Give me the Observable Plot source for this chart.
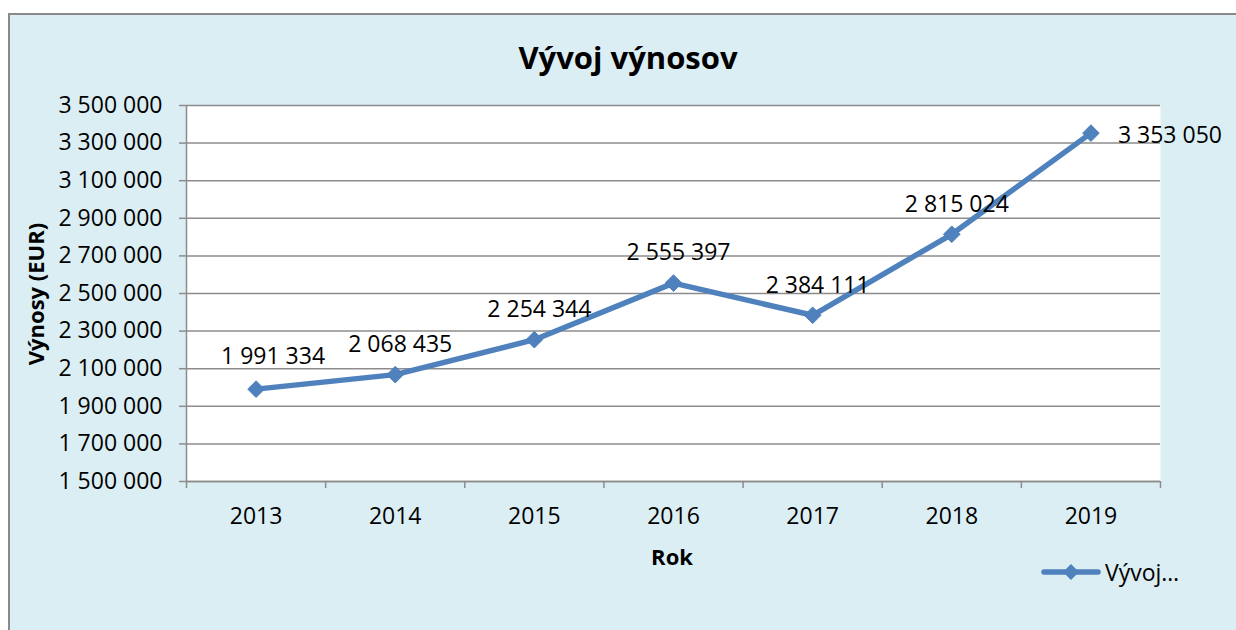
<!DOCTYPE html>
<html>
<head>
<meta charset="utf-8">
<script src="https://cdn.jsdelivr.net/npm/d3@7"></script>
<script src="https://cdn.jsdelivr.net/npm/@observablehq/plot@0.6"></script>
<style>
  html, body { margin: 0; padding: 0; background: #ffffff; overflow: hidden; width: 1236px; height: 630px; }
  #chart { position: absolute; left: 8px; top: 13px; width: 1240px; height: 630px; box-sizing: border-box;
           background: #DBEEF4; border: 2px solid #8a8a8a; font-family: "Open Sans", Lato, sans-serif; color: #000; }
  #plot { position: absolute; left: 0; top: 0; }
  .title { position: absolute; left: 0; width: 1236px; text-align: center; top: 22px; font-weight: bold; font-size: 31px; line-height: 40px; }
  .ytitle { position: absolute; left: 25px; top: 279px; transform: translate(-50%, -50%) rotate(-90deg); font-weight: bold; font-size: 22px; white-space: nowrap; }
  .xtitle { position: absolute; left: 662px; top: 526px; transform: translateX(-50%); font-weight: bold; font-size: 22px; }
  .legend { position: absolute; left: 1030px; top: 541px; display: flex; align-items: center; font-size: 23px; }
</style>
</head>
<body>
<div id="chart">
  <div id="plot"></div>
  <div class="title" id="title"></div>
  <div class="ytitle" id="ytitle"></div>
  <div class="xtitle" id="xtitle"></div>
  <div class="legend" id="legend"></div>
</div>
<script>
const years = [2013, 2014, 2015, 2016, 2017, 2018, 2019];
const revenues = [1991334, 2068435, 2254344, 2555397, 2384111, 2815024, 3353050];
const yTicks = [1500000, 1700000, 1900000, 2100000, 2300000, 2500000, 2700000, 2900000, 3100000, 3300000, 3500000];
const titleText = "Vývoj výnosov";
const yTitleText = "Výnosy (EUR)";
const xTitleText = "Rok";
const seriesName = "Vývoj…";

const data = years.map((y, i) => ({year: y, value: revenues[i], i}));
const last = years.length - 1;
const boundaries = [...years.map(y => y - 0.5), years[last] + 0.5];
const fmt = v => d3.format(",")(v).replace(/,/g, " ");
const blue = "#4F81BD";
const grid = "#8c8c8c";
const font = "'Open Sans', Lato, sans-serif";

const chart = Plot.plot({
  width: 1226,
  height: 615,
  marginLeft: 176,
  marginRight: 76,
  marginTop: 90,
  marginBottom: 149,
  style: {background: "transparent", fontFamily: font, fontSize: "23px", color: "#000", overflow: "visible"},
  x: {type: "linear", domain: [years[0] - 0.5, years[last] + 0.5]},
  y: {domain: [1500000, 3500000]},
  marks: [
    Plot.frame({fill: "white", stroke: null}),
    Plot.gridY(yTicks, {stroke: grid, strokeOpacity: 1, strokeWidth: 1.5}),
    Plot.axisY(yTicks, {tickSize: 7, tickPadding: 17, tickFormat: fmt, stroke: grid, strokeWidth: 1.5, fill: "#000", label: null, fontSize: 23}),
    Plot.axisX(boundaries, {tickSize: 7, tickFormat: () => "", stroke: grid, strokeWidth: 1.5, label: null}),
    Plot.axisX(years, {tickSize: 0, tickPadding: 26, tickFormat: d => String(d), fill: "#000", label: null, fontSize: 23}),
    Plot.ruleX([years[0] - 0.5], {stroke: grid, strokeWidth: 1.5}),
    Plot.ruleY([1500000], {stroke: grid, strokeWidth: 1.5}),
    Plot.line(data, {x: "year", y: "value", stroke: blue, strokeWidth: 5.5, strokeLinejoin: "round"}),
    Plot.dot(data, {x: "year", y: "value", symbol: "diamond2", r: 7.5, fill: blue, stroke: blue, strokeWidth: 1}),
    Plot.text(data.filter(d => d.i === 0), {
      x: "year", y: "value", text: d => fmt(d.value), dy: -33, dx: 17, fill: "#000", fontSize: 23
    }),
    Plot.text(data.filter(d => d.i > 0 && d.i < last), {
      x: "year", y: "value", text: d => fmt(d.value), dy: -30, dx: 5, fill: "#000", fontSize: 23
    }),
    Plot.text(data.filter(d => d.i === last), {
      x: "year", y: "value", text: d => fmt(d.value), dx: 27, dy: 2, textAnchor: "start", fill: "#000", fontSize: 23
    })
  ]
});
document.getElementById("plot").appendChild(chart);
document.getElementById("title").textContent = titleText;
document.getElementById("ytitle").textContent = yTitleText;
document.getElementById("xtitle").textContent = xTitleText;
document.getElementById("legend").innerHTML =
  `<svg width="62" height="20" style="margin-right:3px"><line x1="4" y1="10" x2="58" y2="10" stroke="${blue}" stroke-width="5.5" stroke-linecap="round"/>` +
  `<path d="M31 2 L39 10 L31 18 L23 10 Z" fill="${blue}"/></svg><span></span>`;
document.querySelector("#legend span").textContent = seriesName;
</script>
</body>
</html>
